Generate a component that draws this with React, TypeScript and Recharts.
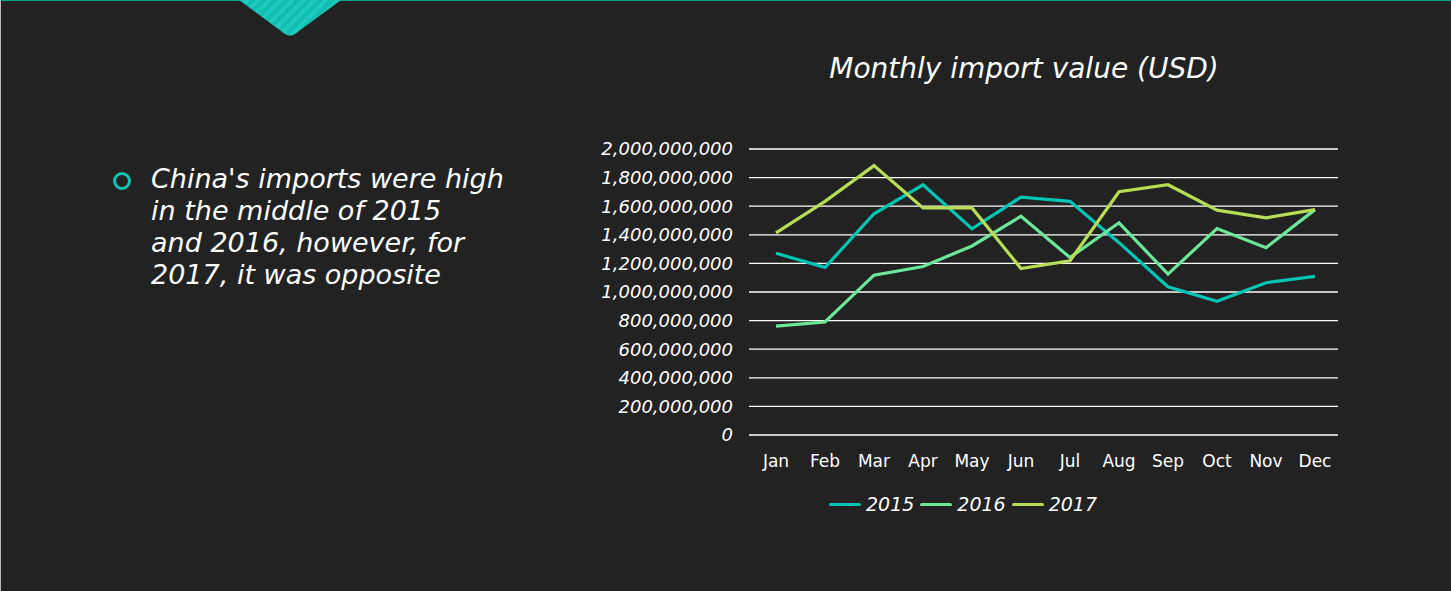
import React from 'react'
import { LineChart, Line, XAxis, YAxis, CartesianGrid, Legend } from 'recharts'

// values (USD)
const months = ['Jan', 'Feb', 'Mar', 'Apr', 'May', 'Jun', 'Jul', 'Aug', 'Sep', 'Oct', 'Nov', 'Dec']
const imports2015 = [1271e6, 1172e6, 1547e6, 1750e6, 1442e6, 1664e6, 1634e6, 1345e6, 1037e6, 935e6, 1065e6, 1109e6]
const imports2016 = [762e6, 790e6, 1118e6, 1178e6, 1322e6, 1530e6, 1241e6, 1484e6, 1125e6, 1444e6, 1310e6, 1576e6]
const imports2017 = [1414e6, 1634e6, 1884e6, 1588e6, 1588e6, 1164e6, 1218e6, 1701e6, 1750e6, 1572e6, 1519e6, 1576e6]
const yTicks = [0, 2e8, 4e8, 6e8, 8e8, 1e9, 1.2e9, 1.4e9, 1.6e9, 1.8e9, 2e9]

const series = [
  { key: 'y2015', name: '2015', color: '#00c4b4' },
  { key: 'y2016', name: '2016', color: '#6ce79a' },
  { key: 'y2017', name: '2017', color: '#b6dd55' },
]

const data = months.map((m, i) => ({
  month: m,
  y2015: imports2015[i],
  y2016: imports2016[i],
  y2017: imports2017[i],
}))

const FONT = '"DejaVu Sans", sans-serif'

function LegendRow({ payload }: any) {
  return (
    <div style={{ display: 'flex', justifyContent: 'center', alignItems: 'center', fontFamily: FONT, fontSize: 19, color: '#fff', fontStyle: 'italic' }}>
      {(payload || []).map((p: any) => (
        <span key={p.value} style={{ display: 'flex', alignItems: 'center' }}>
          <span style={{ display: 'inline-block', width: 32, height: 3, background: p.color, borderRadius: 2, marginRight: 5 }} />
          <span style={{ marginRight: 6 }}>{p.value}</span>
        </span>
      ))}
    </div>
  )
}

export default function App() {
  return (
    <div style={{ position: 'absolute', left: 0, top: 0, width: 1451, height: 591, background: '#222222', overflow: 'hidden', borderLeft: '1px solid #b8b8b8', boxSizing: 'border-box' }}>
      {/* top accent */}
      <div style={{ position: 'absolute', left: 0, top: 0, width: 1451, height: 1, background: '#0aa492' }} />
      <svg width={1451} height={40} style={{ position: 'absolute', left: 0, top: 0 }}>
        <defs>
          <pattern id="stripes" width={8} height={8} patternUnits="userSpaceOnUse" patternTransform="rotate(45)">
            <rect width={8} height={8} fill="#1ccbbb" />
            <rect width={4} height={8} fill="#10bfaf" />
          </pattern>
        </defs>
        <path d="M238 0 L340 0 L294 34 Q289 37 284 34 Z" fill="url(#stripes)" />
      </svg>

      {/* bullet text */}
      <svg width={24} height={24} style={{ position: 'absolute', left: 109, top: 169 }}>
        <circle cx={12} cy={12} r={7.5} fill="none" stroke="#10c4b4" strokeWidth={3} />
      </svg>
      <div style={{ position: 'absolute', left: 150, top: 163, fontFamily: FONT, fontSize: 27, lineHeight: '32px', color: '#fff', fontStyle: 'italic', whiteSpace: 'nowrap' }}>
        China's imports were high<br />in the middle of 2015<br />and 2016, however, for<br />2017, it was opposite
      </div>

      {/* title */}
      <div style={{ position: 'absolute', left: 773, width: 500, top: 52, textAlign: 'center', fontFamily: FONT, fontSize: 28, color: '#fff', fontStyle: 'italic' }}>
        Monthly import value (USD)
      </div>

      <div style={{ position: 'absolute', left: 570, top: 0 }}>
        <LineChart width={790} height={591} data={data} margin={{ top: 149, right: 23, bottom: 94, left: 0 }}>
          <CartesianGrid vertical={false} stroke="#ffffff" strokeWidth={1.3} />
          <XAxis
            dataKey="month"
            axisLine={false}
            tickLine={false}
            padding={{ left: 27, right: 23 }}
            tick={{ fill: '#fff', fontSize: 17, fontFamily: FONT }}
            tickMargin={14}
            height={40}
          />
          <YAxis
            domain={[0, 2e9]}
            ticks={yTicks}
            axisLine={false}
            tickLine={false}
            width={178}
            tickMargin={10}
            tick={{ fill: '#fff', fontSize: 18, fontFamily: FONT, fontStyle: 'italic' }}
            tickFormatter={(v: number) => v.toLocaleString('en-US')}
          />
          <Legend content={<LegendRow />} wrapperStyle={{ top: 493, left: 170, width: 450 }} />
          {series.map(s => (
            <Line
              key={s.key}
              type="linear"
              dataKey={s.key}
              name={s.name}
              stroke={s.color}
              strokeWidth={3.2}
              dot={false}
              isAnimationActive={false}
            />
          ))}
        </LineChart>
      </div>
    </div>
  )
}
